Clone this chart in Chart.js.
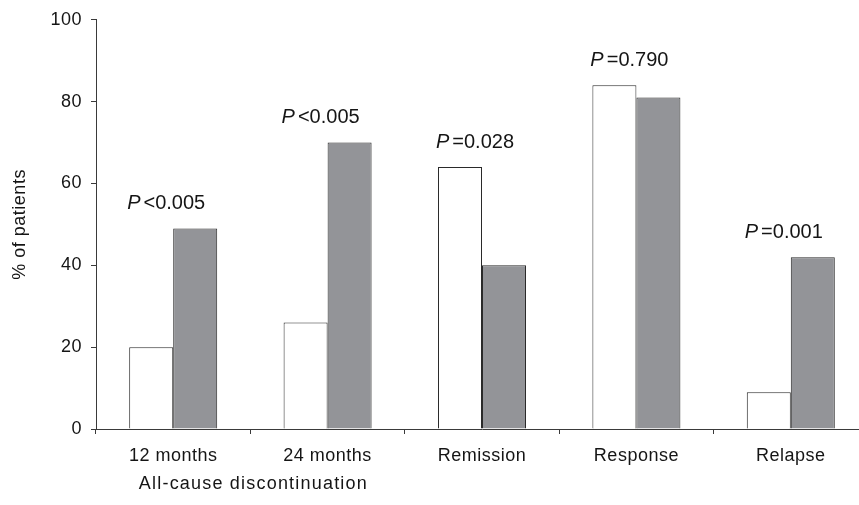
<!DOCTYPE html>
<html>
<head>
<meta charset="utf-8">
<script src="https://cdn.jsdelivr.net/npm/chart.js@4.4.1/dist/chart.umd.min.js"></script>
<style>
  html, body { margin: 0; padding: 0; background: #fff; overflow: hidden; }
  #wrap { width: 868px; height: 505px; }
</style>
</head>
<body>
<div id="wrap"><canvas id="barChart" width="868" height="505"></canvas></div>
<script>
const categories = ["12 months", "24 months", "Remission", "Response", "Relapse"];
const whiteValues = [20, 26, 64, 84, 9];
const grayValues = [49, 70, 40, 81, 42];
const pValues = ["<0.005", "<0.005", "=0.028", "=0.790", "=0.001"];
const yTicks = [0, 20, 40, 60, 80, 100];
const groupLabel = "All-cause discontinuation";

const textColor = "#151515";
const axisColor = "#3a3a3a";
const fontFamily = "'Liberation Sans', Arial, sans-serif";

// letter spacing for axis text (the reference text is slightly spread)
const spacingPlugin = {
    id: "spacing",
    beforeDraw(chart) { chart.ctx.letterSpacing = "0.5px"; },
    afterDraw(chart) { chart.ctx.letterSpacing = "0px"; }
};

// P values above each pair and the group label under the first two categories
const notesPlugin = {
    id: "notes",
    afterDraw(chart) {
        const ctx = chart.ctx;
        const x = chart.scales.x;
        const y = chart.scales.y;
        ctx.save();
        ctx.fillStyle = textColor;
        ctx.textBaseline = "middle";
        ctx.textAlign = "left";
        ctx.letterSpacing = "0px";
        categories.forEach((c, i) => {
            const top = y.getPixelForValue(Math.max(whiteValues[i], grayValues[i]));
            const cy = top - 25;
            const cx = x.getPixelForValue(i) - 7;
            ctx.font = "italic 20px " + fontFamily;
            const wP = ctx.measureText("P").width;
            ctx.font = "20px " + fontFamily;
            const wRest = ctx.measureText(pValues[i]).width;
            const gap = 3;
            const start = cx - (wP + gap + wRest) / 2;
            ctx.font = "italic 20px " + fontFamily;
            ctx.fillText("P", start, cy);
            ctx.font = "20px " + fontFamily;
            ctx.fillText(pValues[i], start + wP + gap, cy);
        });
        ctx.font = "18px " + fontFamily;
        ctx.letterSpacing = "1.2px";
        ctx.textAlign = "center";
        const gx = (x.getPixelForValue(0) + x.getPixelForValue(1)) / 2 + 3;
        ctx.fillText(groupLabel, gx, 484);
        ctx.restore();
    }
};

new Chart(document.getElementById("barChart").getContext("2d"), {
    type: "bar",
    data: {
        labels: categories,
        datasets: [
            { label: "Group 1", data: whiteValues, backgroundColor: "#ffffff", borderColor: "#2a2a2a", borderWidth: 1 },
            { label: "Group 2", data: grayValues, backgroundColor: "#939498", borderColor: "#2a2a2a", borderWidth: 1 }
        ]
    },
    options: {
        responsive: false,
        animation: false,
        devicePixelRatio: 1,
        layout: { padding: { top: 15, left: 0, right: 0, bottom: 0 } },
        plugins: { legend: { display: false }, tooltip: { enabled: false } },
        datasets: { bar: { categoryPercentage: 0.57, barPercentage: 1.0 } },
        scales: {
            x: {
                afterFit(scale) { scale.height = 76; },
                grid: { offset: true, drawOnChartArea: false, drawTicks: true, tickLength: 5, color: axisColor },
                border: { display: true, color: axisColor, width: 1 },
                ticks: { color: textColor, font: { family: fontFamily, size: 18 }, padding: 11 }
            },
            y: {
                min: 0,
                max: 100,
                afterFit(scale) { scale.width = 96; },
                afterBuildTicks(scale) { scale.ticks = yTicks.map(v => ({ value: v })); },
                grid: { drawOnChartArea: false, drawTicks: true, tickLength: 5, color: axisColor },
                border: { display: true, color: axisColor, width: 1 },
                ticks: { color: textColor, font: { family: fontFamily, size: 18 }, padding: 9 },
                title: { display: true, text: "% of patients", color: textColor, font: { family: fontFamily, size: 18 }, padding: { top: 9, bottom: 0 } }
            }
        }
    },
    plugins: [spacingPlugin, notesPlugin]
});
</script>
</body>
</html>
